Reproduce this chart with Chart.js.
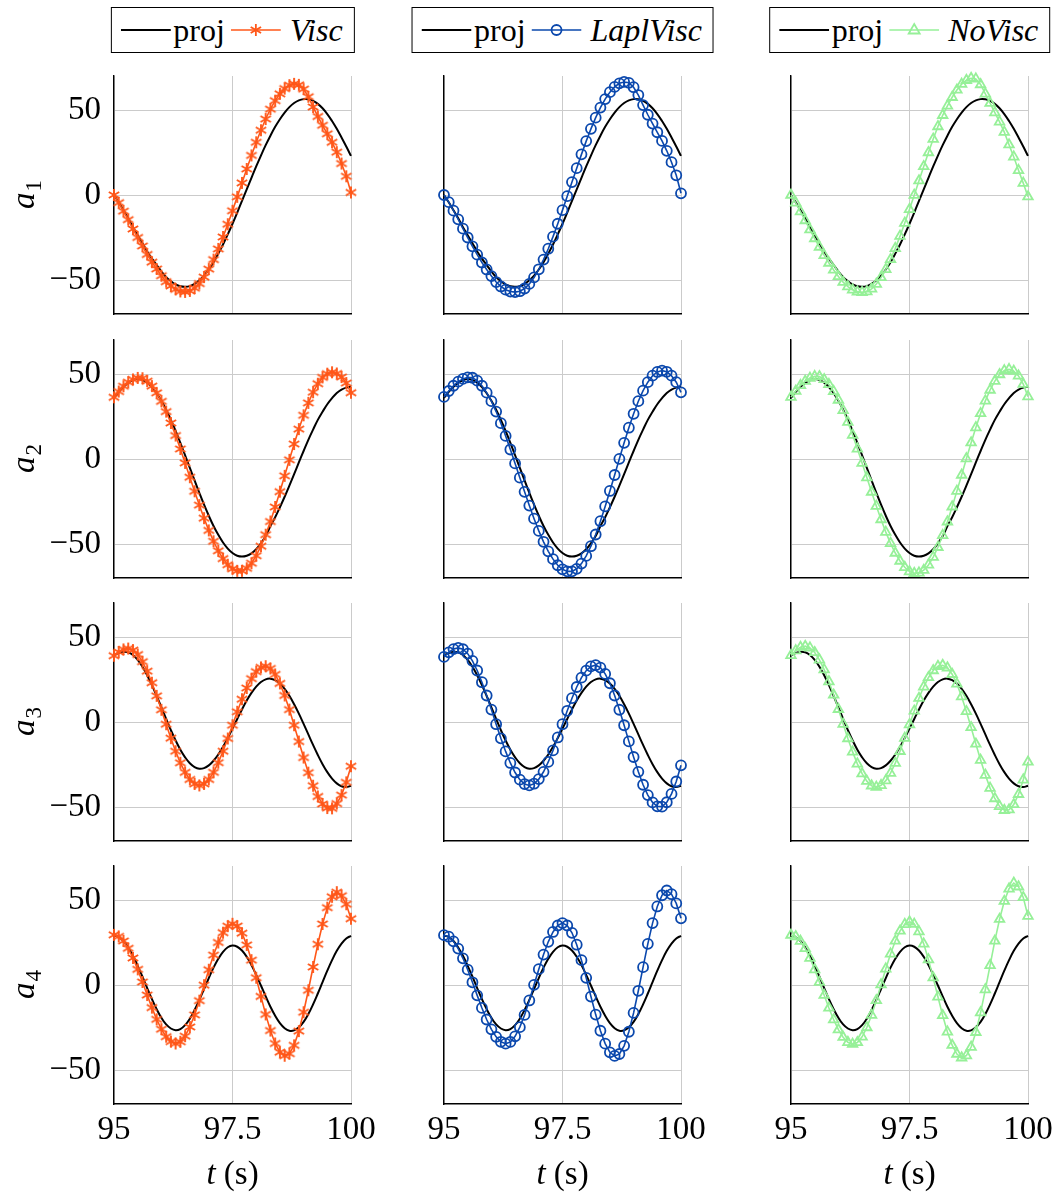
<!DOCTYPE html>
<html>
<head>
<meta charset="utf-8">
<script src="https://cdn.jsdelivr.net/npm/chart.js@4.4.1/dist/chart.umd.min.js"></script>
<style>
  body { margin: 0; background: #fff; }
  #page { position: relative; width: 1060px; height: 1193px; overflow: hidden; background: #fff; }
  canvas.panel { position: absolute; }
  .legend {
    position: absolute; top: 7px; height: 46px; box-sizing: border-box;
    transform: translateX(-50%); border: 1px solid #000; background: #fff;
    display: flex; align-items: center; padding: 0 11px 0 9px; white-space: nowrap;
    font-family: 'Liberation Serif', 'Times New Roman', serif; font-size: 32px; color: #000;
  }
  .legend svg { display: block; margin-right: 3px; }
  .legend .gap { width: 6px; }
  .legend i { font-style: italic; }
</style>
</head>
<body>
<div id="page"></div>
<script>
// time axis (s)
const times = [95.0, 95.1, 95.2, 95.3, 95.4, 95.5, 95.6, 95.7, 95.8, 95.9,
  96.0, 96.1, 96.2, 96.3, 96.4, 96.5, 96.6, 96.7, 96.8, 96.9,
  97.0, 97.1, 97.2, 97.3, 97.4, 97.5, 97.6, 97.7, 97.8, 97.9,
  98.0, 98.1, 98.2, 98.3, 98.4, 98.5, 98.6, 98.7, 98.8, 98.9,
  99.0, 99.1, 99.2, 99.3, 99.4, 99.5, 99.6, 99.7, 99.8, 99.9, 100.0];

const xTicks = [95, 97.5, 100];
const xTickLabels = ['95', '97.5', '100'];
const yTicks = [-50, 0, 50];
const yTickLabels = ['\u221250', '0', '50'];

// a1
const proj1 = [0, -4.3, -9.0, -13.7, -19.0, -23.7, -28.4, -33.2, -37.4, -41.2, -45.0, -48.3, -50.7, -52.6, -53.7, -54.0,
  -53.6, -52.3, -50.2, -47.4, -43.8, -39.5, -34.5, -29.1, -23.2, -16.9, -10.3, -3.5, 3.3, 10.1, 16.8, 23.2, 29.3, 34.9,
  40.1, 44.6, 48.5, 51.7, 54.1, 55.7, 56.4, 56.3, 55.4, 53.6, 51.0, 47.6, 43.5, 38.9, 33.8, 28.5, 23.0];
const visc1 = [0, -4.5, -9.5, -14.5, -20.0, -25.0, -30.0, -35.0, -39.5, -43.5, -47.5, -51.0, -53.5, -55.5, -56.7, -57.0,
  -56.4, -54.8, -52.1, -48.3, -43.6, -38.0, -31.7, -24.7, -17.2, -9.3, -1.1, 7.1, 15.3, 23.3, 31.0, 38.1, 44.7, 50.5,
  55.5, 59.5, 62.6, 64.6, 65.4, 64.8, 62.3, 57.8, 51.8, 46.2, 41.0, 36.0, 31.0, 25.2, 18.5, 11.0, 1.5];
const lapl1 = [0, -4.2, -9.2, -14.3, -19.8, -25.0, -30.2, -35.1, -39.7, -43.8, -47.7, -51.2, -53.8, -55.7, -56.8, -57.1,
  -56.6, -55.0, -52.3, -48.5, -43.7, -38.0, -31.6, -24.5, -16.9, -8.9, -0.7, 7.6, 15.8, 23.9, 31.7, 38.9, 45.5, 51.4,
  56.4, 60.5, 63.6, 65.7, 66.5, 66.0, 63.4, 58.8, 52.9, 47.2, 42.0, 36.9, 31.8, 26.0, 19.3, 11.6, 1.0];
const novisc1 = [0, -4.6, -9.8, -15.0, -20.4, -25.6, -30.6, -35.5, -40.0, -44.1, -47.9, -51.3, -53.9, -55.8, -57.0, -57.3,
  -56.8, -55.2, -52.4, -48.5, -43.7, -37.9, -31.4, -24.2, -16.5, -8.4, -0.1, 8.4, 16.8, 25.0, 32.9, 40.3, 46.9, 52.4,
  57.5, 61.8, 65.2, 67.5, 68.7, 68.3, 65.0, 59.5, 54.0, 48.5, 43.0, 37.0, 29.6, 22.4, 14.5, 7.0, -1.0];

// a2
const proj2 = [36.0, 39.5, 42.5, 44.8, 46.3, 47.0,
  46.5, 44.9, 42.3, 38.7, 34.2, 29.0, 23.0, 16.5, 9.5, 2.2, -5.2, -12.6, -19.9, -26.9, -33.4, -39.4, -44.6, -49.1, -52.7, -55.3, -56.9,
  -57.4,
  -56.9, -55.5, -53.1, -49.6, -45.3, -39.5, -34.3, -28.4, -22.2, -15.6, -8.9, -2.0, 4.7, 11.3, 17.3, 23.0, 27.8, 32.2, 35.8, 38.8, 40.8, 42.0, 42.5];
const visc2 = [36.3, 39.7, 42.8, 45.2, 46.8, 47.7,
  47.5, 45.8, 42.9, 38.9, 33.9, 27.9, 21.2, 13.8, 5.9, -2.3, -10.7, -19.0, -27.1, -34.8, -42.0, -48.4, -54.0, -58.6, -62.2, -64.6, -65.8,
  -65.8, -64.3, -61.3, -56.9, -51.3, -44.5, -36.8, -28.2, -19.2, -9.9, -0.5, 8.8, 17.6, 25.7, 33.0, 39.3, 44.3, 48.0, 50.2, 51.0,
  50.3, 48.2, 44.7, 39.0];
const lapl2 = [36.5, 40.0, 43.1, 45.5, 47.1, 48.0,
  47.8, 46.1, 43.1, 39.0, 34.0, 27.9, 21.1, 13.6, 5.6, -2.6, -11.0, -19.3, -27.4, -35.1, -42.3, -48.7, -54.3, -58.9, -62.5, -64.9, -66.1,
  -66.1, -64.6, -61.5, -57.0, -51.3, -44.4, -36.6, -27.9, -18.8, -9.4, 0.1, 9.5, 18.4, 26.6, 34.0, 40.2, 45.2, 49.0, 51.2, 52.0,
  51.3, 49.0, 45.2, 39.2];
const novisc2 = [36.4, 40.0, 43.3, 45.8, 47.6, 48.6,
  48.5, 46.8, 43.9, 39.8, 34.7, 28.6, 21.7, 14.1, 6.0, -2.4, -10.9, -19.4, -27.7, -35.6, -43.0, -49.6, -55.3, -60.0, -63.7, -66.2, -67.2,
  -67.0, -65.4, -62.3, -57.7, -51.9, -44.9, -36.9, -28.1, -18.9, -9.4, 0.2, 9.6, 18.5, 26.8, 34.2, 40.6, 45.8, 49.7, 52.0, 52.7,
  51.7, 48.9, 44.0, 36.7];

// a3
const proj3 = [39.2, 40.6, 41.3,
  41.0, 39.4, 36.5, 32.5, 27.5, 21.7, 15.3, 8.6, 1.8, -4.8, -10.9, -16.3, -20.8, -24.3, -26.5, -27.5,
  -27.1, -25.5, -22.8, -19.1, -14.6, -9.4, -3.8, 1.8, 7.4, 12.6, 17.1, 20.8, 23.5, 25.1, 25.5,
  24.6, 22.6, 19.5, 15.4, 10.4, 4.9, -1.1, -7.3, -13.5, -19.4, -24.8, -29.5, -33.3, -36.1, -37.8, -38.3, -37.5];
const visc3 = [39.0, 41.2, 42.7, 43.2,
  42.3, 39.7, 35.5, 29.9, 23.1, 15.4, 7.2, -1.3, -9.5, -17.2, -24.0, -29.6, -33.8, -36.4, -37.3,
  -36.4, -33.8, -29.6, -23.9, -17.2, -9.7, -1.9, 6.0, 13.4, 20.0, 25.5, 29.6, 32.1, 32.8,
  31.5, 28.0, 22.7, 15.6, 7.3, -1.9, -11.5, -20.9, -29.8, -37.5, -43.8, -48.2, -50.6, -50.8,
  -48.0, -43.0, -35.5, -26.0];
const lapl3 = [38.3, 41.0, 42.9, 43.6,
  42.8, 40.2, 36.0, 30.3, 23.4, 15.6, 7.3, -1.3, -9.6, -17.3, -24.1, -29.7, -33.9, -36.5, -37.3,
  -36.3, -33.6, -29.3, -23.5, -16.7, -9.1, -1.3, 6.6, 14.0, 20.6, 26.1, 30.2, 32.7, 33.4,
  32.0, 28.3, 22.8, 15.6, 7.2, -1.9, -11.4, -20.6, -29.3, -36.9, -43.0, -47.3, -49.6, -49.8,
  -47.2, -42.3, -35.0, -25.5];
const novisc3 = [39.2, 42.0, 44.0, 44.6,
  43.6, 40.9, 36.6, 30.8, 23.8, 15.9, 7.5, -1.2, -9.7, -17.6, -24.6, -30.4, -34.8, -37.5, -38.3,
  -37.3, -34.5, -30.1, -24.2, -17.2, -9.5, -1.5, 6.5, 14.0, 20.7, 26.2, 30.3, 32.8, 33.4,
  31.9, 28.1, 22.4, 14.9, 6.2, -3.2, -12.9, -22.4, -31.2, -38.9, -45.0, -49.6, -51.9, -51.6,
  -48.5, -42.5, -34.0, -23.5];

// a4
const proj4 = [29.0, 28.2, 25.9, 22.1, 17.2, 11.3, 4.9, -1.8, -8.3, -14.2, -19.3, -23.2, -25.6, -26.6,
  -25.9, -23.6, -19.8, -14.7, -8.8, -2.4, 4.1, 10.2, 15.4, 19.5, 22.2, 23.2,
  22.5, 20.3, 16.6, 11.7, 6.0, -0.3, -6.7, -12.8, -18.1, -22.4, -25.4, -26.9,
  -26.7, -24.9, -21.7, -17.1, -11.4, -5.0, 1.7, 8.4, 14.6, 20.1, 24.4, 27.4, 28.9];
const visc4 = [29.5, 28.6, 25.9, 21.6, 15.9, 9.2, 1.8, -5.9, -13.3, -20.2, -26.0, -30.4, -33.3, -34.4,
  -33.4, -30.1, -24.7, -17.6, -9.2, -0.1, 9.0, 17.6, 25.0, 30.8, 34.6, 36.0,
  34.7, 30.5, 23.6, 14.6, 4.3, -6.7, -17.3, -26.8, -34.4, -39.5, -41.6,
  -40.4, -35.5, -27.1, -16.0, -3.1, 10.6, 24.0, 35.9, 45.5, 51.9, 54.6,
  52.5, 47.5, 39.0];
const lapl4 = [29.3, 28.4, 25.7, 21.4, 15.7, 9.0, 1.6, -6.1, -13.5, -20.3, -26.1, -30.5, -33.4, -34.5,
  -33.5, -30.2, -24.8, -17.6, -9.1, 0.1, 9.3, 17.9, 25.4, 31.2, 35.0, 36.4,
  35.0, 30.7, 23.7, 14.6, 4.2, -6.8, -17.4, -26.9, -34.5, -39.6, -41.7,
  -40.6, -35.8, -27.5, -16.4, -3.4, 10.5, 24.2, 36.4, 46.2, 52.8, 55.6,
  53.4, 48.0, 39.2];
const novisc4 = [29.4, 28.5, 25.8, 21.5, 15.8, 9.1, 1.7, -6.0, -13.5, -20.4, -26.3, -30.7, -33.7, -34.8,
  -33.8, -30.5, -25.0, -17.7, -9.1, 0.2, 9.5, 18.3, 25.9, 31.8, 35.7, 37.2,
  35.8, 31.4, 24.2, 14.9, 4.3, -7.0, -17.9, -27.6, -35.4, -40.6, -42.8,
  -41.5, -36.5, -27.8, -16.2, -2.7, 11.6, 25.9, 38.7, 49.3, 56.6, 60.0,
  57.8, 51.5, 40.5];

const projRows = [proj1, proj2, proj3, proj4];
const rowSubs = ['1', '2', '3', '4'];

const FONT = "'Liberation Serif', 'Times New Roman', serif";
const FS = 33;
const GRID = '#cbcbcb';

// asterisk marker like pgfplots' "*"
function asteriskImage(color) {
  const c = document.createElement('canvas');
  c.width = 14; c.height = 14;
  const g = c.getContext('2d');
  g.strokeStyle = color;
  g.lineWidth = 1.9;
  for (let k = 0; k < 3; k++) {
    const a = Math.PI / 2 + k * Math.PI / 3;
    g.beginPath();
    g.moveTo(7 + 6 * Math.cos(a), 7 + 6 * Math.sin(a));
    g.lineTo(7 - 6 * Math.cos(a), 7 - 6 * Math.sin(a));
    g.stroke();
  }
  return c;
}

const columns = [
  { name: 'Visc', color: '#ff5719', style: asteriskImage('#ff5719'), radius: 6, rows: [visc1, visc2, visc3, visc4] },
  { name: 'LaplVisc', color: '#0b48ad', style: 'circle', radius: 5, rows: [lapl1, lapl2, lapl3, lapl4] },
  { name: 'NoVisc', color: '#96f098', style: 'triangle', radius: 5.5, rows: [novisc1, novisc2, novisc3, novisc4] }
];

// plot area positions on the page
const plotLeft = [114, 444, 791];
const plotTop = [76, 340, 603, 866];
const PW = 237, PH = 238;
const ML = 110, MT = 12, MR = 30, MB = 90;

const page = document.getElementById('page');

function toXY(vals) {
  return vals.map((v, i) => ({ x: times[i], y: v }));
}

// y title a_n (italic a, upright subscript) and x title t (s)
const axisTitles = {
  id: 'axisTitles',
  afterDraw(chart, args, opts) {
    const { ctx, chartArea } = chart;
    ctx.save();
    ctx.fillStyle = '#000';
    ctx.textBaseline = 'alphabetic';
    if (opts.ySub) {
      const bx = chartArea.left - 80;
      const cy = (chartArea.top + chartArea.bottom) / 2;
      ctx.translate(bx, cy);
      ctx.rotate(-Math.PI / 2);
      ctx.font = `italic ${FS}px ${FONT}`;
      const wa = ctx.measureText('a').width;
      ctx.font = `${Math.round(FS * 0.7)}px ${FONT}`;
      const w1 = ctx.measureText(opts.ySub).width;
      const x0 = -(wa + w1) / 2;
      ctx.font = `italic ${FS}px ${FONT}`;
      ctx.fillText('a', x0, 0);
      ctx.font = `${Math.round(FS * 0.7)}px ${FONT}`;
      ctx.fillText(opts.ySub, x0 + wa + 1, 7);
      ctx.setTransform(1, 0, 0, 1, 0, 0);
    }
    if (opts.xTitle) {
      const cx = (chartArea.left + chartArea.right) / 2;
      const by = chartArea.bottom + 80;
      ctx.font = `italic ${FS}px ${FONT}`;
      const wt = ctx.measureText('t').width;
      ctx.font = `${FS}px ${FONT}`;
      const ws = ctx.measureText(' (s)').width;
      const x0 = cx - (wt + ws) / 2;
      ctx.font = `italic ${FS}px ${FONT}`;
      ctx.fillText('t', x0, by);
      ctx.font = `${FS}px ${FONT}`;
      ctx.fillText(' (s)', x0 + wt, by);
    }
    ctx.restore();
  }
};

function makePanel(ci, ri) {
  const col = columns[ci];
  const canvas = document.createElement('canvas');
  canvas.className = 'panel';
  canvas.width = ML + PW + MR;
  canvas.height = MT + PH + MB;
  canvas.style.left = (plotLeft[ci] - ML) + 'px';
  canvas.style.top = (plotTop[ri] - MT) + 'px';
  page.appendChild(canvas);

  const isLeft = ci === 0;
  const isBottom = ri === 3;

  new Chart(canvas, {
    type: 'line',
    data: {
      datasets: [
        {
          label: col.name,
          data: toXY(col.rows[ri]),
          borderColor: col.color,
          borderWidth: 1.6,
          pointStyle: col.style,
          pointRadius: col.radius,
          pointBorderColor: col.color,
          pointBackgroundColor: 'rgba(255,255,255,0)',
          pointBorderWidth: 1.8,
          tension: 0,
          order: 0,
          clip: 10
        },
        {
          label: 'proj',
          data: toXY(projRows[ri]),
          borderColor: '#000',
          borderWidth: 2,
          pointRadius: 0,
          tension: 0.4,
          order: 1,
          clip: 10
        }
      ]
    },
    options: {
      responsive: false,
      animation: false,
      devicePixelRatio: 1,
      events: [],
      layout: { padding: { left: 0, top: MT, right: MR, bottom: 0 } },
      plugins: {
        legend: { display: false },
        tooltip: { enabled: false },
        axisTitles: { ySub: isLeft ? rowSubs[ri] : null, xTitle: isBottom }
      },
      scales: {
        x: {
          type: 'linear',
          min: 95,
          max: 100,
          afterBuildTicks: s => { s.ticks = xTicks.map(v => ({ value: v })); },
          afterFit: s => { s.height = MB; s.paddingLeft = 0; s.paddingRight = 0; },
          grid: { color: GRID, lineWidth: 1, drawTicks: false },
          border: { display: true, color: '#000', width: 1.4 },
          ticks: {
            display: isBottom,
            autoSkip: false,
            maxRotation: 0,
            padding: 7,
            color: '#000',
            font: { family: FONT, size: FS },
            callback: v => xTickLabels[xTicks.indexOf(v)]
          }
        },
        y: {
          type: 'linear',
          min: -70,
          max: 70,
          afterBuildTicks: s => { s.ticks = yTicks.map(v => ({ value: v })); },
          afterFit: s => { s.width = ML; s.paddingTop = 0; s.paddingBottom = 0; },
          grid: { color: GRID, lineWidth: 1, drawTicks: false },
          border: { display: true, color: '#000', width: 1.4 },
          ticks: {
            display: isLeft,
            padding: 13,
            color: '#000',
            font: { family: FONT, size: FS },
            callback: v => yTickLabels[yTicks.indexOf(v)]
          }
        }
      }
    },
    plugins: [axisTitles]
  });
}

function markerSvg(ci) {
  const col = columns[ci];
  const c = col.color;
  let mark = '';
  if (ci === 0) {
    for (let k = 0; k < 3; k++) {
      const a = Math.PI / 2 + k * Math.PI / 3;
      const dx = 6 * Math.cos(a), dy = 6 * Math.sin(a);
      mark += `<line x1="${25 + dx}" y1="${11 + dy}" x2="${25 - dx}" y2="${11 - dy}" stroke="${c}" stroke-width="1.8"/>`;
    }
  } else if (ci === 1) {
    mark = `<circle cx="25" cy="11" r="5" fill="none" stroke="${c}" stroke-width="1.8"/>`;
  } else {
    mark = `<polygon points="25,5 30.5,14.5 19.5,14.5" fill="none" stroke="${c}" stroke-width="1.8"/>`;
  }
  return `<svg width="50" height="22"><line x1="0" y1="11" x2="50" y2="11" stroke="${c}" stroke-width="1.6"/>${mark}</svg>`;
}

columns.forEach((col, ci) => {
  const lg = document.createElement('div');
  lg.className = 'legend';
  lg.style.left = (plotLeft[ci] + PW / 2) + 'px';
  lg.innerHTML =
    '<svg width="50" height="22"><line x1="0" y1="11" x2="50" y2="11" stroke="#000" stroke-width="2"/></svg>' +
    '<span>proj</span><span class="gap"></span>' + markerSvg(ci) + '<span class="gap"></span><i>' + col.name + '</i>';
  page.appendChild(lg);
  for (let ri = 0; ri < 4; ri++) makePanel(ci, ri);
});
</script>
</body>
</html>
